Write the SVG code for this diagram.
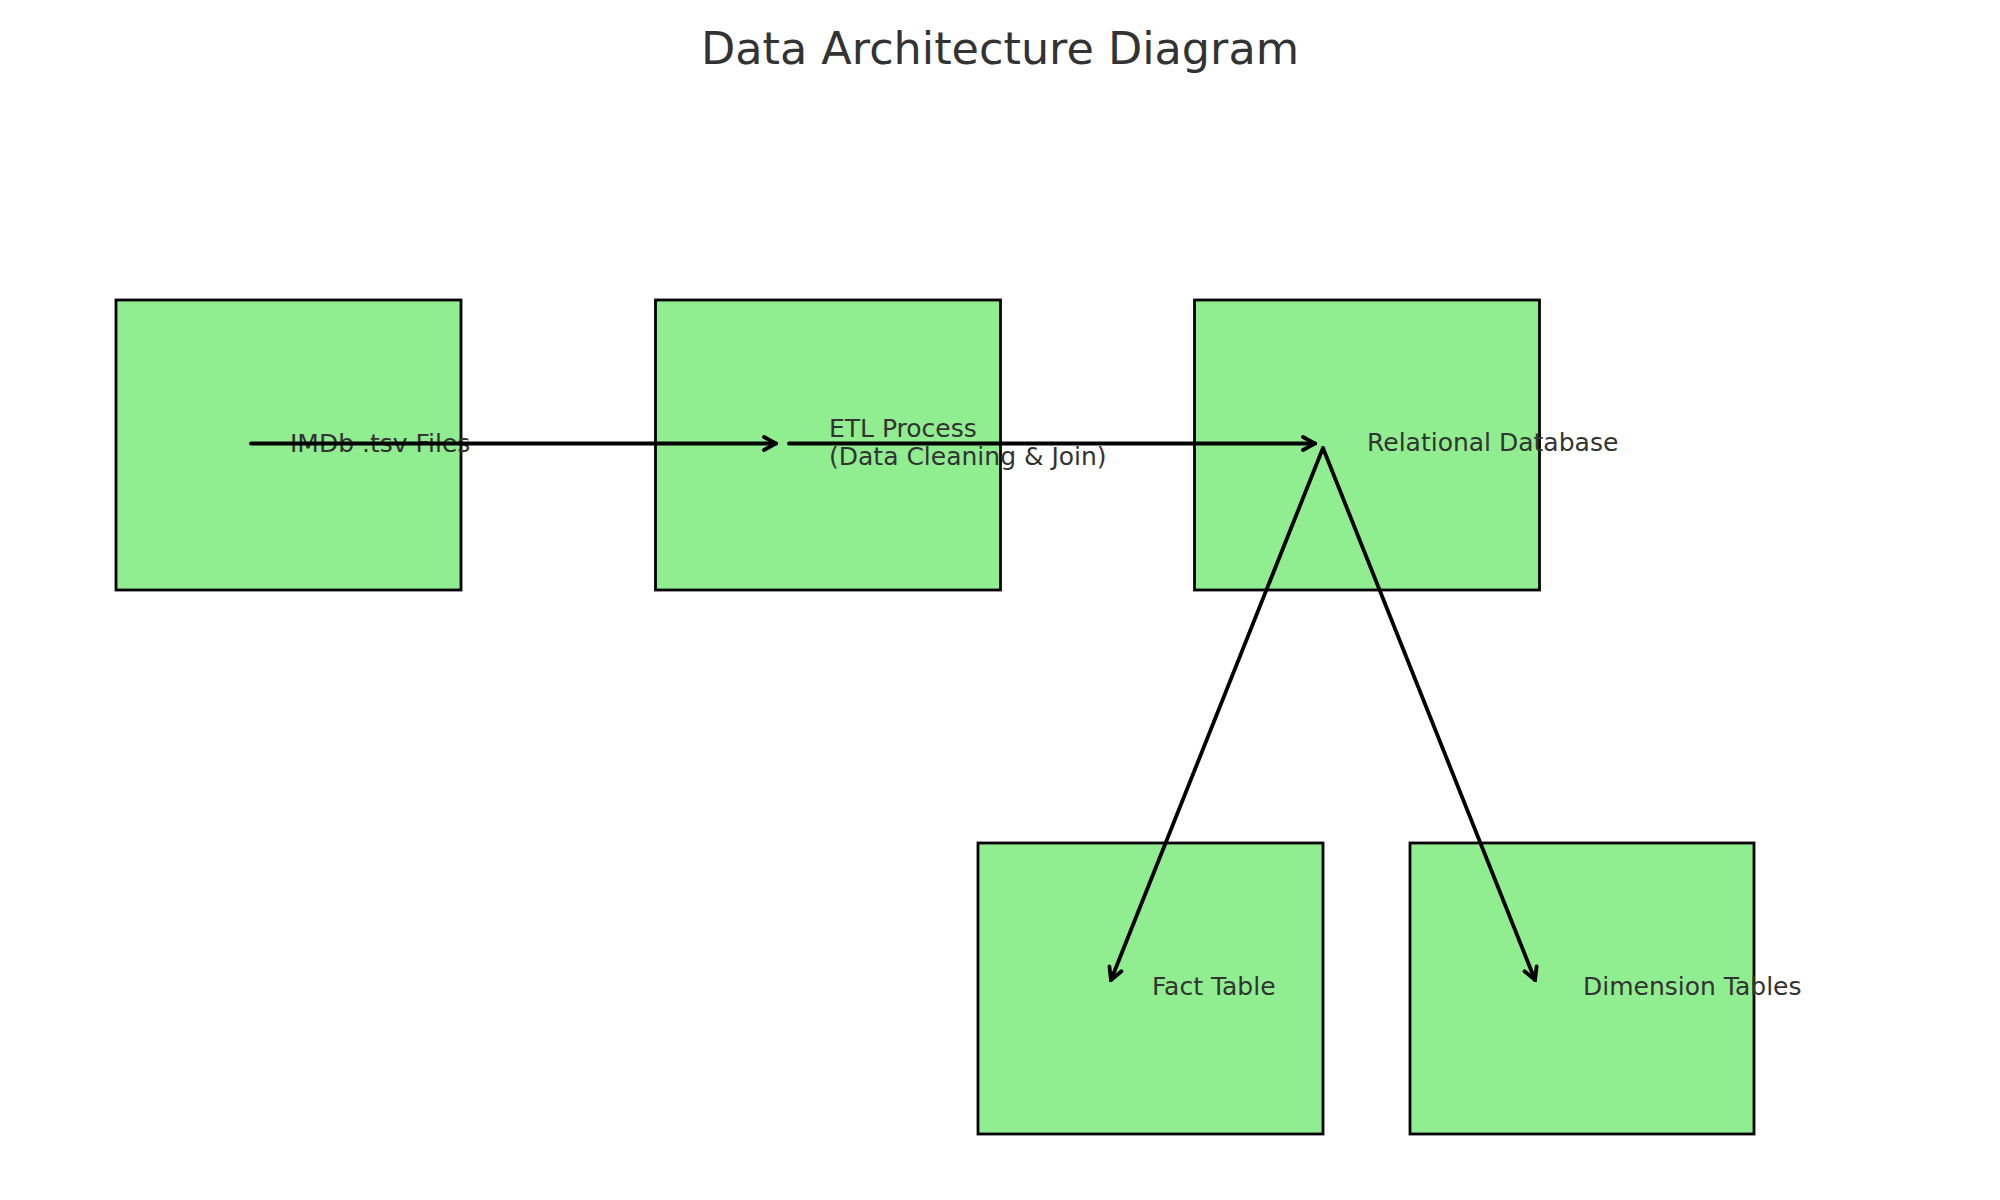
<svg xmlns="http://www.w3.org/2000/svg" width="2000" height="1200" viewBox="0 0 2000 1200">
<style>
.box{fill:#90EE90;stroke:#000;stroke-width:2.8}
.lbl{font-family:"DejaVu Sans",sans-serif;font-size:25px;fill:#333333}
.title{font-family:"DejaVu Sans",sans-serif;font-size:44.5px;fill:#333333;text-anchor:middle}
.arr{stroke:#000;stroke-width:3.8;fill:none;stroke-linecap:round}
</style>
<defs>
<marker id="ah" viewBox="-16 -9 18 18" refX="0" refY="0" markerWidth="18" markerHeight="18" markerUnits="userSpaceOnUse" orient="auto">
<path d="M-12,-6.5 L0,0 L-12,6.5" fill="none" stroke="#000" stroke-width="3.8" stroke-linecap="round" stroke-linejoin="miter"/>
</marker>
</defs>
<rect width="2000" height="1200" fill="#fff"/>
<text class="title" x="1000" y="64">Data Architecture Diagram</text>
<g id="node-imdb"><rect class="box" x="116" y="300" width="345" height="290"/><text class="lbl" x="290" y="452">IMDb .tsv Files</text></g>
<g id="node-etl"><rect class="box" x="655.5" y="300" width="345" height="290"/><text class="lbl" x="829" y="437">ETL Process</text><text class="lbl" x="829" y="465">(Data Cleaning &amp; Join)</text></g>
<g id="node-rdb"><rect class="box" x="1194.5" y="300" width="345" height="290"/><text class="lbl" x="1367" y="451">Relational Database</text></g>
<g id="node-fact"><rect class="box" x="978" y="843" width="345" height="291"/><text class="lbl" x="1152" y="995">Fact Table</text></g>
<g id="node-dim"><rect class="box" x="1410" y="843" width="344" height="291"/><text class="lbl" x="1583" y="995">Dimension Tables</text></g>
<g id="connectors">
<line class="arr" x1="251" y1="443.5" x2="776" y2="443.5" marker-end="url(#ah)"/>
<line class="arr" x1="789" y1="443.5" x2="1315" y2="443.5" marker-end="url(#ah)"/>
<line class="arr" x1="1323" y1="448" x2="1111" y2="980" marker-end="url(#ah)"/>
<line class="arr" x1="1323" y1="448" x2="1535" y2="980" marker-end="url(#ah)"/>
</g>
</svg>
